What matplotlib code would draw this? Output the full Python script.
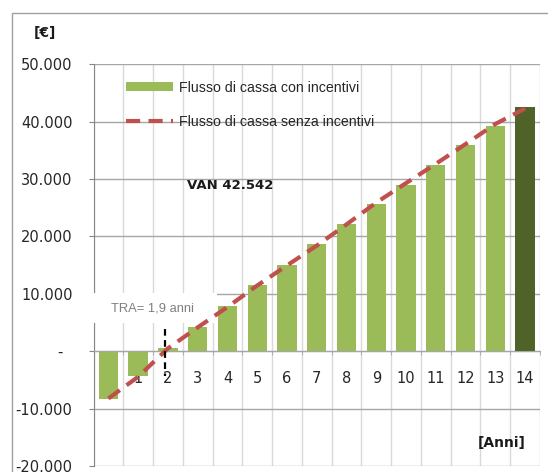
import numpy as np
import matplotlib
matplotlib.use("Agg")
import matplotlib.pyplot as plt
from matplotlib.patches import Rectangle, Patch
from matplotlib.lines import Line2D
from matplotlib.ticker import FuncFormatter

# Cumulative cash flow per year (EUR)
anni = list(range(15))
flusso_con_incentivi = [-8240, -4350, 590, 4250, 7960, 11620, 15050, 18750,
                        22250, 25650, 29040, 32470, 35960, 39210, 42542]
flusso_senza_incentivi = [-8240, -4450, 500, 4150, 7700, 11450, 14950, 18400,
                          22100, 25900, 29300, 32650, 36100, 39600, 42300]
van = 42542
tra = 1.9
y_ticks = [-20000, -10000, 0, 10000, 20000, 30000, 40000, 50000]

W, H, DPI = 548, 472, 100
fig = plt.figure(figsize=(W / DPI, H / DPI), dpi=DPI)

def px(x, y):
    return x / W, 1 - y / H

# outer chart frame (left and top edges; the rest lies outside the image)
fx, fy = px(11.5, 13)
fig.add_artist(Line2D([fx, fx, 1.05], [-0.05, fy, fy], transform=fig.transFigure,
                      color="#a0a0a0", lw=1.0, clip_on=False))

left, right, top, bottom = 93.5, 540, 64.3, 466
ax = fig.add_axes([left / W, 1 - bottom / H, (right - left) / W, (bottom - top) / H])
ax.set_xlim(-0.5, 14.5)
ax.set_ylim(-20000, 50000)

light = "#9bbb59"
dark = "#4f6228"
red = "#c0504d"
colors = [light] * (len(anni) - 1) + [dark]
ax.bar(anni, flusso_con_incentivi, width=0.65, color=colors, zorder=2)
ax.plot(anni, flusso_senza_incentivi, color=red, lw=3.0,
        dashes=(3.4, 2.0), zorder=3, dash_capstyle="butt")

# payback marker
ax.plot([tra, tra], [3800, -4350], color="black", lw=1.6, dashes=(3, 2), zorder=4)

# gridlines
ax.set_axisbelow(True)
ax.set_yticks(y_ticks)
ax.yaxis.grid(True, color="#a6a6a6", lw=1.0)
ax.set_xticks(anni)
ax.set_xticks(np.arange(-0.5, 15, 1), minor=True)
ax.xaxis.grid(True, which="minor", color="#d9d9d9", lw=1.0)
ax.xaxis.grid(False, which="major")

def fmt(v, pos):
    if v == 0:
        return "-  "
    return f"{int(v):,}".replace(",", ".")

ax.yaxis.set_major_formatter(FuncFormatter(fmt))
ax.tick_params(axis="y", direction="out", length=3.6, color="#868686",
               labelsize=10.5, pad=11.5, labelcolor="#262626")
ax.tick_params(axis="x", which="major", length=0, pad=14.5, labelsize=10.5,
               labelcolor="#262626")
ax.tick_params(axis="x", which="minor", direction="out", length=3, color="#a6a6a6")

for s in ("top", "right"):
    ax.spines[s].set_visible(False)
ax.spines["bottom"].set_position(("data", 0))
ax.spines["bottom"].set_color("#a6a6a6")
ax.spines["left"].set_color("#868686")

# TRA label box
ax.add_patch(Rectangle((-0.65, 5000), 4.3, 5230, facecolor="white", edgecolor="none",
                       zorder=2.6, clip_on=False))
sans = ["Liberation Sans", "DejaVu Sans"]
ax.text(0.09, 7440, f"TRA= {str(tra).replace('.', ',')} anni", color="#7f7f7f",
        fontsize=9.3, family=sans, va="center", ha="left", zorder=2.7)

ax.text(2.63, 28950, "VAN " + f"{van:,}".replace(",", "."), fontsize=9.5,
        fontweight="bold", va="center", ha="left", color="#1a1a1a")

fig.text(*px(45, 33), "[€]", fontsize=10, fontweight="bold", ha="center", va="center",
         color="#1a1a1a")
fig.text(*px(501.5, 443), "[Anni]", fontsize=10, fontweight="bold", ha="center",
         va="center", color="#1a1a1a")

handles = [Patch(facecolor=light, edgecolor="none"),
           Line2D([], [], color=red, lw=3.0, dashes=(3.4, 2.0), dash_capstyle="butt")]
leg = ax.legend(handles, ["Flusso di cassa con incentivi", "Flusso di cassa senza incentivi"],
                loc="upper left", bbox_to_anchor=px(126, 80.5), bbox_transform=fig.transFigure,
                frameon=False, borderpad=0, borderaxespad=0, handlelength=3.3,
                handleheight=0.6, handletextpad=0.45, labelspacing=1.45,
                prop={"family": sans, "size": 10.2})
for t in leg.get_texts():
    t.set_color("#262626")

fig.savefig("out.png", dpi=DPI)
